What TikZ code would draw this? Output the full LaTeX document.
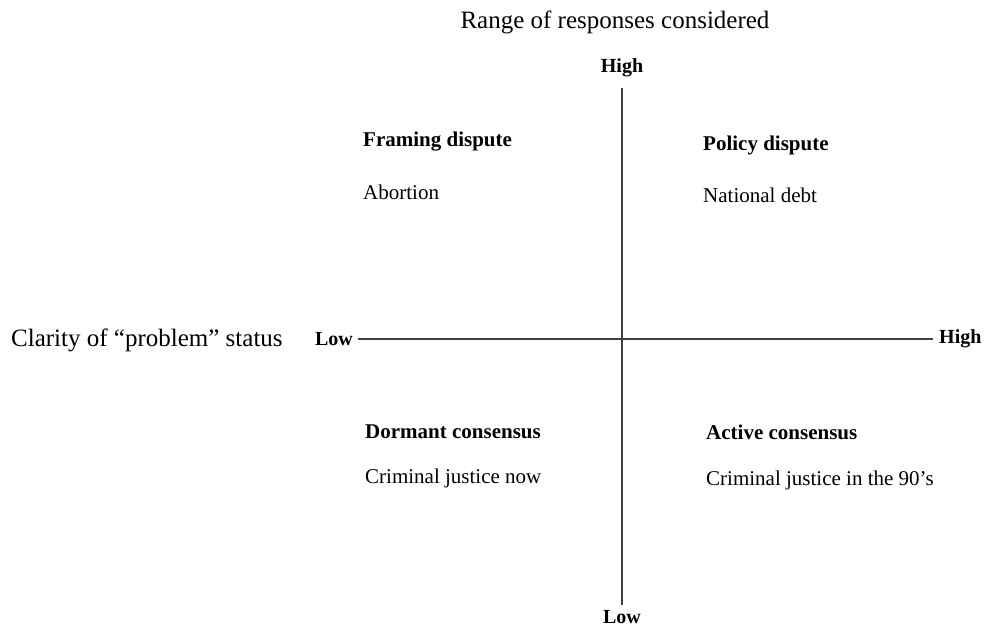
\documentclass[tikz,border=0pt]{standalone}
\usepackage{fontspec}
\setmainfont{Liberation Serif}
\begin{document}
\begin{tikzpicture}[x=1pt,y=-1pt,
  axis/.style={draw=black!75,line width=2pt},
  endlabel/.style={font=\fontsize{20}{24}\selectfont\bfseries,inner sep=3pt},
  title/.style={font=\fontsize{25}{30}\selectfont,inner sep=0pt},
  qhead/.style={font=\fontsize{21}{25}\selectfont\bfseries,anchor=west,inner sep=0pt},
  qtext/.style={font=\fontsize{21}{25}\selectfont,anchor=west,inner sep=0pt}]
  \useasboundingbox (0,0) rectangle (988,628);
  % axis titles
  \node[title] (ytitle) at (615,22) {Range of responses considered};
  \node[title,anchor=west] (xtitle) at (11,340) {Clarity of “problem” status};
  % axis end labels
  \node[endlabel] (hiT) at (622,68) {High};
  \node[endlabel] (loB) at (622,617) {Low};
  \node[endlabel,anchor=east] (loL) at (356,339) {Low};
  \node[endlabel,anchor=west] (hiR) at (936,339) {High};
  % axes
  \draw[axis,shorten <=2pt,shorten >=3pt] (loL) -- (hiR);
  \draw[axis,shorten <=8pt,shorten >=2pt] (hiT) -- (loB);
  % quadrants
  \node[qhead] (q1h) at (363,142) {Framing dispute};
  \node[qtext] (q1t) at (363,192) {Abortion};
  \node[qhead] (q2h) at (703,145) {Policy dispute};
  \node[qtext] (q2t) at (703,195) {National debt};
  \node[qhead] (q3h) at (365,432) {Dormant consensus};
  \node[qtext] (q3t) at (365,478) {Criminal justice now};
  \node[qhead] (q4h) at (706,432) {Active consensus};
  \node[qtext] (q4t) at (706,480) {Criminal justice in the 90’s};
\end{tikzpicture}
\end{document}
